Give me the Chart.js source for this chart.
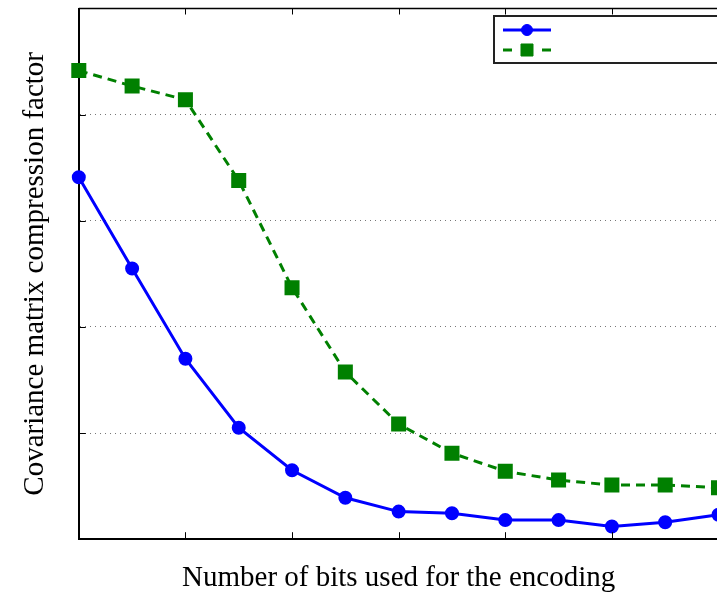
<!DOCTYPE html>
<html>
<head>
<meta charset="utf-8">
<script src="https://cdn.jsdelivr.net/npm/chart.js@4"></script>
<style>
  html, body { margin: 0; padding: 0; background: #fff; overflow: hidden; }
  #wrap { position: relative; width: 730px; height: 600px; margin-top: -3px; }
</style>
</head>
<body>
<div id="wrap"><canvas id="chartBits"></canvas></div>
<script>
// bits on the x axis, the last point falls just outside the visible picture
const bits = [1, 2, 3, 4, 5, 6, 7, 8, 9, 10, 11, 12, 13];
const serieA = [3.41, 2.55, 1.70, 1.05, 0.65, 0.39, 0.26, 0.245, 0.18, 0.18, 0.12, 0.16, 0.23];
const serieB = [4.415, 4.27, 4.14, 3.38, 2.37, 1.575, 1.085, 0.81, 0.64, 0.557, 0.51, 0.51, 0.485];
const yTicks = [0, 1, 2, 3, 4, 5];

const serif = "'Liberation Serif', 'Times New Roman', serif";

// inward ticks, top frame line and the label-less legend box
const framePlugin = {
    id: "frame",
    afterDraw(chart) {
        const c = chart.ctx;
        const a = chart.chartArea;
        const xs = chart.scales.x;
        const ys = chart.scales.y;
        c.save();
        c.strokeStyle = "#000";
        c.lineWidth = 1.5;
        c.beginPath();
        c.moveTo(a.left, a.top);
        c.lineTo(a.right + 10, a.top);
        c.stroke();
        c.lineWidth = 1;
        xs.ticks.forEach((t) => {
            if (t.value <= xs.min || t.value >= xs.max) return;
            const px = Math.round(xs.getPixelForValue(t.value)) + 0.5;
            c.beginPath();
            c.moveTo(px, a.bottom);
            c.lineTo(px, a.bottom - 7);
            c.moveTo(px, a.top);
            c.lineTo(px, a.top + 6);
            c.stroke();
        });
        ys.ticks.forEach((t) => {
            if (t.value <= ys.min || t.value >= ys.max) return;
            const py = Math.round(ys.getPixelForValue(t.value)) + 0.5;
            c.beginPath();
            c.moveTo(a.left, py);
            c.lineTo(a.left + 7, py);
            c.stroke();
        });

        // legend (no labels in the original, only the line samples)
        const bx = 494, by = 19, bw = 300, bh = 47;
        c.fillStyle = "#fff";
        c.fillRect(bx, by, bw, bh);
        c.lineWidth = 2;
        c.strokeStyle = "#222";
        c.strokeRect(bx, by, bw, bh);
        chart.data.datasets.forEach((ds, i) => {
            const y = by + 14 + i * 20;
            c.strokeStyle = ds.borderColor;
            c.lineWidth = ds.borderWidth;
            c.beginPath();
            if (ds.borderDash) {
                c.moveTo(503, y);
                c.lineTo(512, y);
                c.moveTo(542, y);
                c.lineTo(551, y);
            } else {
                c.moveTo(503, y);
                c.lineTo(551, y);
            }
            c.stroke();
            c.fillStyle = ds.backgroundColor;
            c.strokeStyle = ds.pointBorderColor;
            c.lineWidth = 1;
            c.beginPath();
            if (ds.pointStyle === "rect") {
                const s = Math.SQRT1_2 * ds.pointRadius;
                c.rect(527 - s, y - s, 2 * s, 2 * s);
            } else {
                c.arc(527, y, ds.pointRadius, 0, Math.PI * 2);
            }
            c.fill();
            c.stroke();
        });
        c.restore();
    },
};

new Chart(document.getElementById("chartBits"), {
    type: "line",
    data: {
        datasets: [
            {
                data: bits.map((b, i) => ({ x: b, y: serieA[i] })),
                borderColor: "#0000ff",
                backgroundColor: "#0000ff",
                pointBorderColor: "#0000ff",
                borderWidth: 3,
                pointStyle: "circle",
                pointRadius: 5.5,
                tension: 0,
                clip: false,
            },
            {
                data: bits.map((b, i) => ({ x: b, y: serieB[i] })),
                borderColor: "#008000",
                backgroundColor: "#008000",
                pointBorderColor: "#008000",
                borderWidth: 3,
                borderDash: [9, 6],
                pointStyle: "rect",
                pointRadius: 8.5,
                tension: 0,
                clip: false,
            },
        ],
    },
    options: {
        responsive: true,
        maintainAspectRatio: false,
        animation: false,
        layout: { padding: { top: 6, right: 3, left: 0, bottom: 0 } },
        plugins: {
            legend: { display: false },
            tooltip: { enabled: false },
        },
        scales: {
            x: {
                type: "linear",
                min: 1,
                max: 13,
                ticks: { display: false, stepSize: 2 },
                grid: { display: false, drawTicks: false },
                border: { display: true, color: "#000", width: 2 },
                title: {
                    display: true,
                    text: "Number of bits used for the encoding",
                    font: { family: serif, size: 29 },
                    color: "#000",
                    padding: { top: 22, bottom: 1 },
                },
            },
            y: {
                min: yTicks[0],
                max: yTicks[yTicks.length - 1],
                afterBuildTicks: (s) => {
                    s.ticks = yTicks.map((v) => ({ value: v }));
                },
                ticks: { display: false },
                grid: {
                    drawTicks: false,
                    color: "#777",
                    lineWidth: 1,
                },
                border: { display: true, color: "#000", width: 2, dash: [1, 4] },
                title: {
                    display: true,
                    text: "Covariance matrix compression factor",
                    font: { family: serif, size: 29 },
                    color: "#000",
                    padding: { top: 18, bottom: 26 },
                },
            },
        },
    },
    plugins: [framePlugin],
});
</script>
</body>
</html>
